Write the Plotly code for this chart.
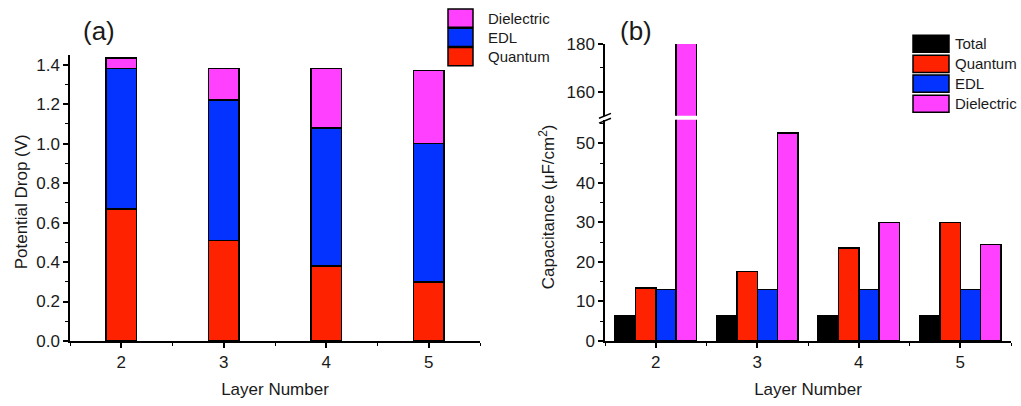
import plotly.graph_objects as go

# Layer numbers on both x axes
layers = [2, 3, 4, 5]

# (a) potential drop across each component (V), stacked bottom to top
drop_quantum = [0.67, 0.51, 0.38, 0.30]
drop_edl = [0.71, 0.71, 0.70, 0.70]
drop_dielectric = [0.055, 0.16, 0.30, 0.37]

# (b) capacitance of each component (uF/cm^2)
cap_total = [6.5, 6.5, 6.5, 6.5]
cap_quantum = [13.4, 17.6, 23.5, 30.0]
cap_edl = [13.0, 13.0, 13.0, 13.0]
cap_dielectric = [185.0, 52.7, 30.0, 24.4]

colors = {
    "Total": "#000000",
    "Quantum": "#ff2200",
    "EDL": "#0433ff",
    "Dielectric": "#ff40ff",
}

W, H = 1021, 406
ML, MR, MT, MB = 70, 10, 44, 60
PW, PH = W - ML - MR, H - MT - MB
FONT = "Liberation Sans, Arial, sans-serif"
INK = "#1a1a1a"


def px(x):
    return (x - ML) / PW


def py(y):
    return (H - MB - y) / PH


outline = dict(color="black", width=1.5)
fig = go.Figure()

# (a) stacked potential-drop bars
for name, vals in [("Quantum", drop_quantum), ("EDL", drop_edl), ("Dielectric", drop_dielectric)]:
    fig.add_trace(go.Bar(x=layers, y=vals, name=name, width=0.3,
                         marker=dict(color=colors[name], line=outline),
                         xaxis="x", yaxis="y", showlegend=False))

# (b) grouped capacitance bars
series_b = [("Total", cap_total), ("Quantum", cap_quantum), ("EDL", cap_edl), ("Dielectric", cap_dielectric)]
for i, (name, vals) in enumerate(series_b):
    fig.add_trace(go.Bar(x=layers, y=vals, name=name, width=0.2, offset=-0.4 + 0.2 * i,
                         offsetgroup=str(i), marker=dict(color=colors[name], line=outline),
                         xaxis="x2", yaxis="y2", showlegend=False))
# upper segment of the broken axis shows the tall dielectric bar
fig.add_trace(go.Bar(x=layers, y=cap_dielectric, name="Dielectric", width=0.2, offset=0.2,
                     offsetgroup="3", marker=dict(color=colors["Dielectric"], line=outline),
                     xaxis="x2", yaxis="y3", showlegend=False))

axis_common = dict(showline=True, linewidth=1.5, linecolor="black", showgrid=False,
                   zeroline=False, ticks="outside", ticklen=5, tickwidth=1.5, tickcolor="black",
                   tickfont=dict(family=FONT, size=17, color=INK))
minor_x = dict(ticks="outside", ticklen=3, tickwidth=1.2, tickcolor="black", dtick=0.5, tick0=1.5)

fig.update_layout(
    width=W, height=H, margin=dict(l=ML, r=MR, t=MT, b=MB),
    paper_bgcolor="white", plot_bgcolor="white", barmode="stack",
    font=dict(family=FONT, color=INK),
    xaxis=dict(domain=[0, px(480)], range=[1.5, 5.5], tickvals=layers, anchor="y",
               minor=minor_x, title=dict(text="Layer Number", font=dict(size=17), standoff=12),
               **axis_common),
    yaxis=dict(domain=[0, py(55)], range=[0, 1.45], tick0=0, dtick=0.2, tickformat=".1f",
               anchor="x", minor=dict(ticks="outside", ticklen=3, tickwidth=1.2,
                                      tickcolor="black", dtick=0.1), **axis_common),
    xaxis2=dict(domain=[px(605), 1], range=[1.5, 5.5], tickvals=layers, anchor="y2",
                minor=minor_x, title=dict(text="Layer Number", font=dict(size=17), standoff=12),
                **axis_common),
    yaxis2=dict(domain=[0, py(121)], range=[0, 56], tick0=0, dtick=10, anchor="x2",
                minor=dict(ticks="outside", ticklen=3, tickwidth=1.2, tickcolor="black", dtick=5),
                **axis_common),
    yaxis3=dict(domain=[py(117), 1], range=[150, 180], tickvals=[160, 180], anchor="x2",
                minor=dict(ticks="outside", ticklen=3, tickwidth=1.2, tickcolor="black",
                           tickvals=[170]), **axis_common),
)

annotations = [
    dict(text="(a)", x=px(99), y=py(31), font=dict(size=26)),
    dict(text="(b)", x=px(636), y=py(31), font=dict(size=26)),
    dict(text="Potential Drop (V)", x=px(21), y=py(205), textangle=-90, font=dict(size=17)),
    dict(text="Capacitance (\u03bcF/cm<sup>2</sup>)", x=px(547), y=py(210), textangle=-90,
         font=dict(size=17)),
]
for a in annotations:
    a.update(xref="paper", yref="paper", showarrow=False, xanchor="center", yanchor="middle")

shapes = []
# break marks on the capacitance axis
for yc in (117.0, 122.0):
    shapes.append(dict(type="line", xref="paper", yref="paper",
                       x0=px(599), y0=py(yc + 2.5), x1=px(611), y1=py(yc - 2.5),
                       line=dict(color="black", width=1.5)))


def legend_box(names, x0, x1, tops, height, tx, size):
    for name, top in zip(names, tops):
        shapes.append(dict(type="rect", xref="paper", yref="paper",
                           x0=px(x0), x1=px(x1), y0=py(top + height), y1=py(top),
                           fillcolor=colors[name], line=dict(color="black", width=1.5)))
        annotations.append(dict(text=name, xref="paper", yref="paper", x=px(tx),
                                y=py(top + height / 2), xanchor="left", yanchor="middle",
                                showarrow=False, font=dict(size=size)))


legend_box(["Dielectric", "EDL", "Quantum"], 448, 473, [8.5, 28.0, 47.5], 18.5, 486, 15)
legend_box(["Total", "Quantum", "EDL", "Dielectric"], 913, 949, [35.0, 55.5, 75.5, 96.0], 17.5, 953, 15)

fig.update_layout(annotations=annotations, shapes=shapes)
fig.write_html("out.html")
